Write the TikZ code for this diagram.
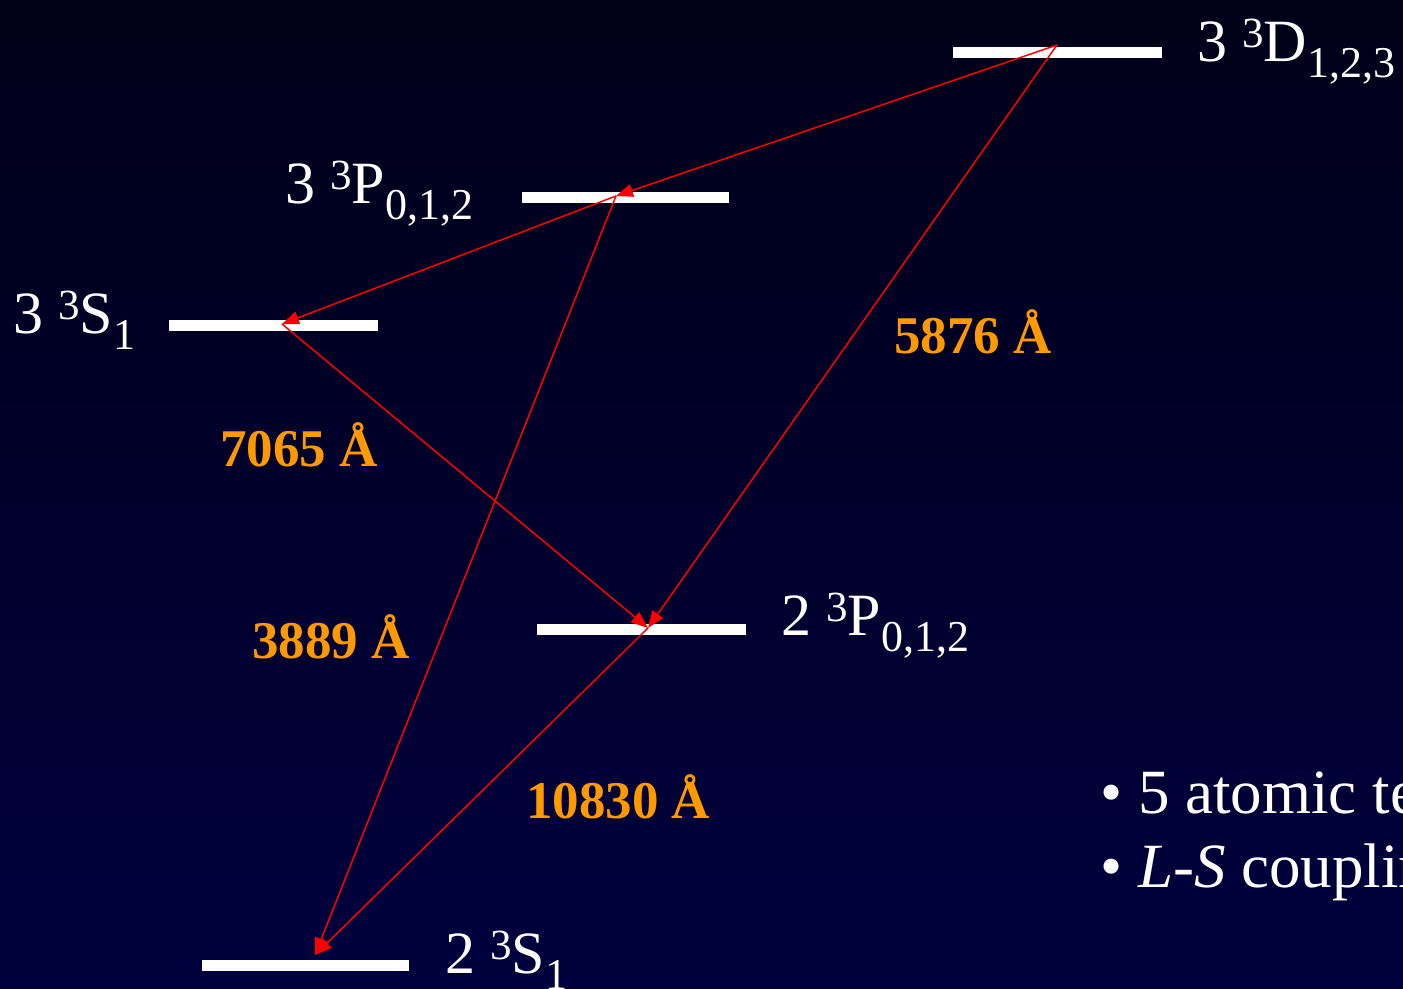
\documentclass[tikz,border=0pt]{standalone}
\usepackage{fontspec}
\setmainfont{Liberation Serif}
\usetikzlibrary{arrows.meta}
\definecolor{bgtop}{RGB}{0,0,24}
\definecolor{bgbot}{RGB}{0,0,62}
\definecolor{waveorange}{RGB}{255,153,0}
\newcommand\termlabel[4]{#1 \raisebox{14pt}{\fontsize{43}{43}\selectfont #2}#3\raisebox{-16pt}{\fontsize{44}{44}\selectfont #4}}
\begin{document}
\begin{tikzpicture}[x=1pt,y=-1pt,
  levelbar/.style={fill=white, draw=none, minimum height=11pt, inner sep=0pt, outer sep=0pt},
  termtext/.style={text=white, anchor=base west, inner sep=0pt, font=\fontsize{60}{72}\selectfont},
  wavelen/.style={text=waveorange, anchor=base west, inner sep=0pt, font=\fontsize{53}{60}\selectfont\bfseries},
  bullettext/.style={text=white, anchor=base west, inner sep=0pt, font=\fontsize{63}{76}\selectfont},
  transition/.style={draw=red, line width=1.5pt, -{Triangle[length=17pt,width=13pt]}}
]
\useasboundingbox (0,0) rectangle (1403,988);
\clip (0,0) rectangle (1403,988);
\shade[top color=bgtop, bottom color=bgbot] (0,0) rectangle (1403,988);

% energy levels
\node[levelbar, minimum width=209pt] (d3) at (1057.5,52) {};
\node[levelbar, minimum width=207pt] (p3) at (625.5,197) {};
\node[levelbar, minimum width=209pt] (s3) at (273.5,325) {};
\node[levelbar, minimum width=209pt] (p2) at (641.5,629) {};
\node[levelbar, minimum width=207pt] (s2) at (305.5,965) {};

% transition end points on the levels
\coordinate (d3a) at (1057,45);
\coordinate (p3a) at (616,196);
\coordinate (s3a) at (282,324);
\coordinate (p2a) at (648,628);
\coordinate (s2a) at (315,955);

\draw[transition] (d3a) -- (p3a);
\draw[transition] (d3a) -- (p2a);
\draw[transition] (p3a) -- (s3a);
\draw[transition] (p3a) -- (s2a);
\draw[transition] (s3a) -- (p2a);
\draw[transition] (p2a) -- (s2a);

% term labels
\node[termtext] (d3l) at (1197,61) {\termlabel{3}{3}{D}{1,2,3}};
\node[termtext] (p3l) at (285,203) {\termlabel{3}{3}{P}{0,1,2}};
\node[termtext] (s3l) at (13,333) {\termlabel{3}{3}{S}{1}};
\node[termtext] (p2l) at (781,635) {\termlabel{2}{3}{P}{0,1,2}};
\node[termtext] (s2l) at (445,973) {\termlabel{2}{3}{S}{1}};

% wavelengths
\node[wavelen] (w5876) at (894,353) {5876 Å};
\node[wavelen] (w7065) at (220,466) {7065 Å};
\node[wavelen] (w3889) at (252,658) {3889 Å};
\node[wavelen] (w10830) at (526,818) {10830 Å};

% bullets
\node[bullettext] (b1) at (1100,813) {\textbullet\ 5 atomic terms};
\node[bullettext] (b2) at (1100,887) {\textbullet\ \textit{L-S} coupling};
\end{tikzpicture}
\end{document}
